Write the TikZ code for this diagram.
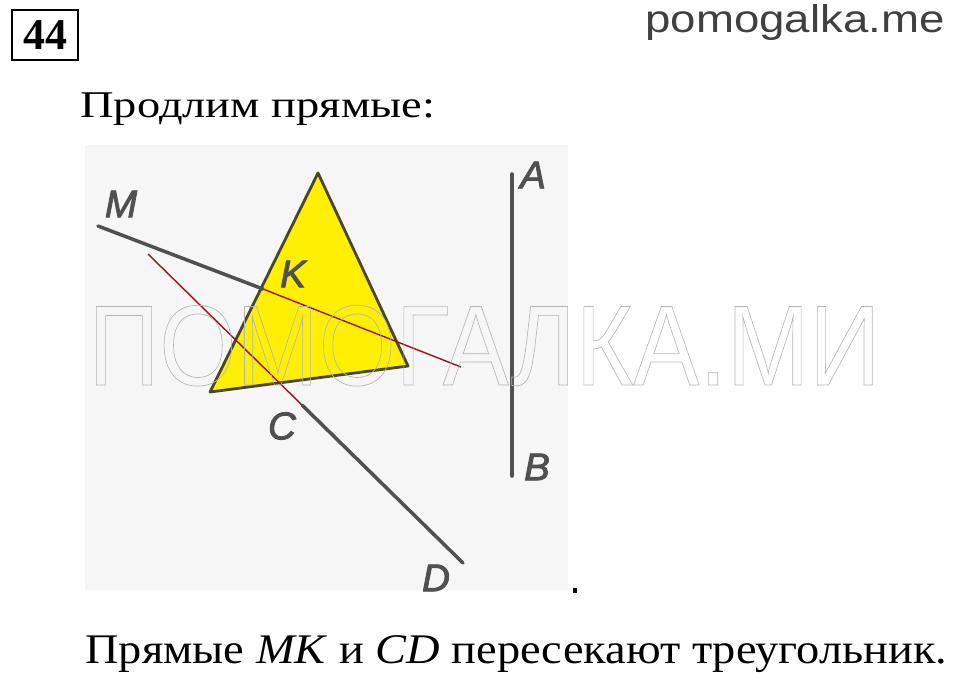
\documentclass[tikz,border=0pt]{standalone}
\usepackage{fontspec}
\setmainfont{Liberation Serif}
\newfontfamily\sitefont{Liberation Sans}
\newfontfamily\ptfont{Liberation Sans}
\definecolor{panelgray}{HTML}{F6F6F6}
\definecolor{linegray}{HTML}{505050}
\definecolor{trifill}{HTML}{FFEF00}
\definecolor{triedge}{HTML}{4A4628}
\definecolor{darkred}{HTML}{9A1020}
\definecolor{markgray}{HTML}{B4B4B4}
\definecolor{sitegray}{HTML}{404040}
\begin{document}
\begin{tikzpicture}[x=0.02cm,y=-0.02cm,
  segline/.style={draw=linegray, line width=2pt, line cap=round},
  extline/.style={draw=darkred, line width=0.8pt},
  ptlabel/.style={text=linegray, font=\ptfont\itshape\fontsize{22}{22}\selectfont, inner sep=0pt}]
\useasboundingbox (0,0) rectangle (960,687);
% header
\node[draw, line width=1.6pt, minimum width=66*0.02cm, minimum height=50*0.02cm, inner sep=0pt] (num) at (45,35) {\bfseries\fontsize{25}{25}\selectfont 44};
\node[anchor=base east, text=sitegray, inner sep=0pt] (site) at (945,32) {\scalebox{1.18}[1]{\sitefont\fontsize{22}{22}\selectfont pomogalka.me}};
\node[anchor=base west, inner sep=0pt] (task) at (80,117) {\scalebox{1.23}[1]{\fontsize{21.5}{21.5}\selectfont Продлим прямые:}};
% drawing
\fill[panelgray] (85,145) rectangle (568,590);
\coordinate (T1) at (318,173);
\coordinate (T2) at (210,392);
\coordinate (T3) at (408,366);
\filldraw[fill=trifill, draw=triedge, line width=1.6pt, line join=round] (T1)--(T2)--(T3)--cycle;
\coordinate (M) at (98,226);
\coordinate (K) at (263,289);
\coordinate (Kend) at (461,367);
\coordinate (Cstart) at (148,254);
\coordinate (C) at (302,405);
\coordinate (D) at (463,563);
\coordinate (A) at (512,174);
\coordinate (B) at (512,476);
\draw[extline] (K)--(Kend);
\draw[extline] (Cstart)--(C);
\draw[segline] (M)--(K);
\draw[segline] (C)--(D);
\draw[segline] (A)--(B);
\node[ptlabel] (lM) at (121,204) {\special{pdf:literal direct 2 Tr 0.5 w}M\special{pdf:literal direct 0 Tr}};
\node[ptlabel] (lK) at (293,274) {\special{pdf:literal direct 2 Tr 0.5 w}K\special{pdf:literal direct 0 Tr}};
\node[ptlabel] (lC) at (282,426) {\special{pdf:literal direct 2 Tr 0.5 w}C\special{pdf:literal direct 0 Tr}};
\node[ptlabel] (lD) at (436,578) {\special{pdf:literal direct 2 Tr 0.5 w}D\special{pdf:literal direct 0 Tr}};
\node[ptlabel] (lA) at (533,175) {\special{pdf:literal direct 2 Tr 0.5 w}A\special{pdf:literal direct 0 Tr}};
\node[ptlabel] (lB) at (537,467) {\special{pdf:literal direct 2 Tr 0.5 w}B\special{pdf:literal direct 0 Tr}};
% watermark
\node[anchor=base west, inner sep=0pt, text=markgray] (mark) at (88,385)
  {\scalebox{0.866}[1]{\sitefont\fontsize{65}{65}\selectfont\special{pdf:literal direct 1 Tr 0.4 w}ПОМОГАЛКА.МИ\special{pdf:literal direct 0 Tr}}};
\fill (573,588) rectangle (577,593);
% answer
\node[anchor=base west, inner sep=0pt] (answer) at (85,663) {\scalebox{1.1}[1]{\fontsize{24}{24}\selectfont Прямые \textit{MK} и \textit{CD} пересекают треугольник.}};
\end{tikzpicture}
\end{document}
